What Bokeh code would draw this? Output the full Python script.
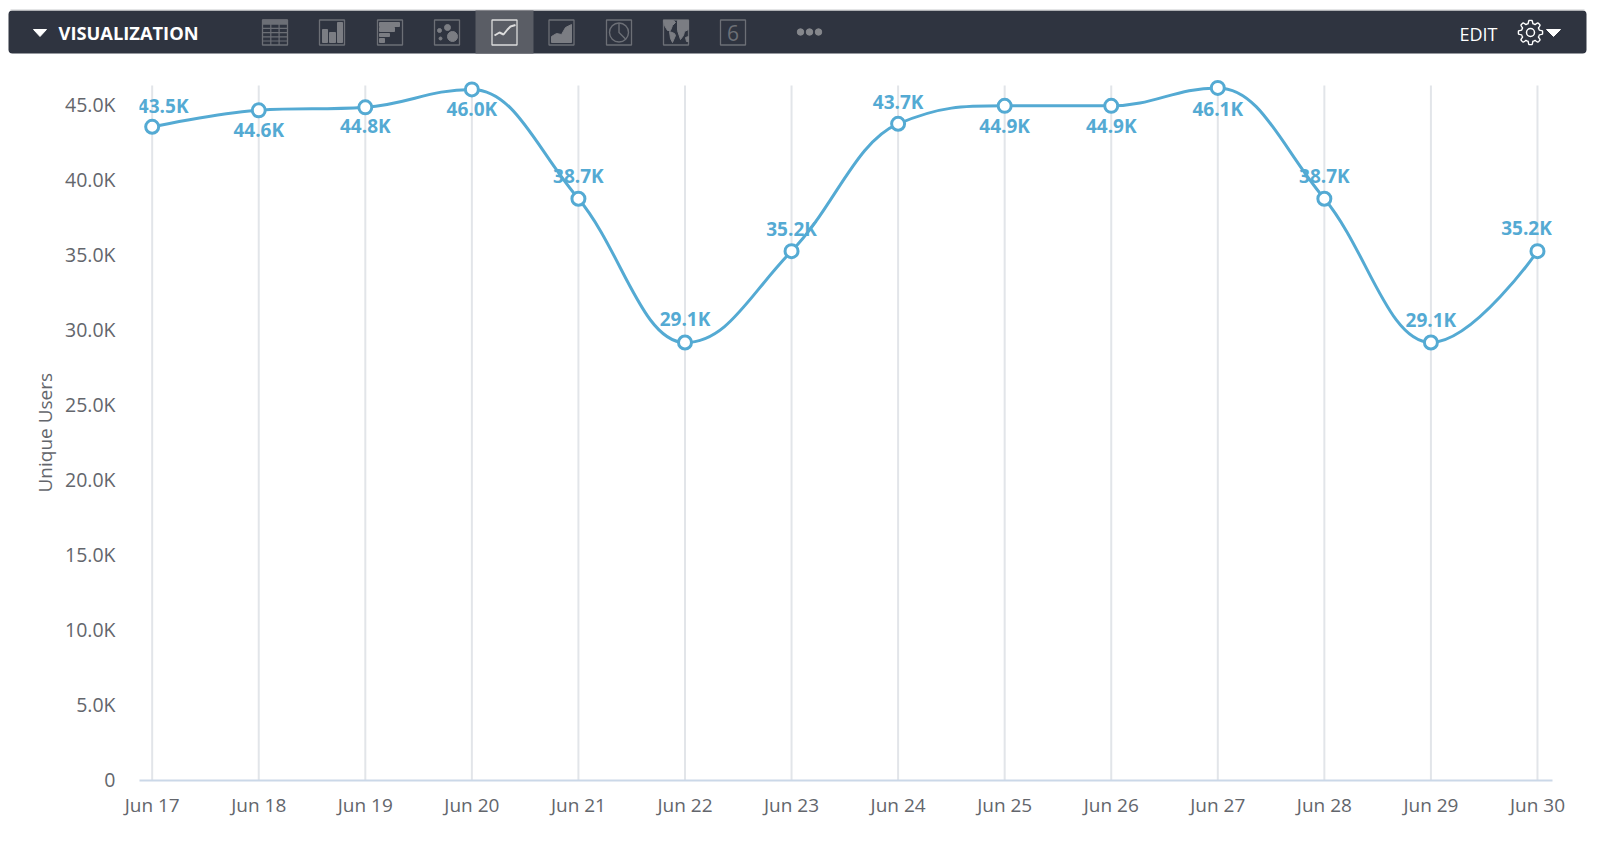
import numpy as np
from bokeh.core.properties import value
from bokeh.embed import file_html
from bokeh.layouts import column, row
from bokeh.models import BoxAnnotation, ColumnDataSource, FixedTicker, Range1d, Title
from bokeh.plotting import figure
from bokeh.resources import INLINE

# ---- data ----
days = ["Jun 17", "Jun 18", "Jun 19", "Jun 20", "Jun 21", "Jun 22", "Jun 23",
        "Jun 24", "Jun 25", "Jun 26", "Jun 27", "Jun 28", "Jun 29", "Jun 30"]
unique_users = [43540, 44640, 44840, 46040, 38740, 29140, 35240,
                43740, 44940, 44940, 46140, 38740, 29140, 35240]
y_ticks = [0, 5000, 10000, 15000, 20000, 25000, 30000, 35000, 40000, 45000]
y_labels = ["0", "5.0K", "10.0K", "15.0K", "20.0K", "25.0K", "30.0K", "35.0K", "40.0K", "45.0K"]
label_dx = [11, 0, 0, 0, 0, 0, 0, 0, 0, 0, 0, 0, 0, -11]
label_dy = [-21, 20, 19, 20, -23, -24, -22, -22, 20, 20, 21, -23, -23, -23]

FONT = value("Open Sans")
BLUE = "#54aad3"
TEXT = "#63666c"
BAR = "#2f3440"
ICON = "#6c6f76"
FILL = "#7b7d83"
ACTIVE = "#dcdcdc"

# ---- header bar, drawn in page pixels ----
h = figure(width=1592, height=63, x_range=Range1d(0, 1592), y_range=Range1d(63, 0),
           output_backend="svg", toolbar_location=None, min_border=0,
           outline_line_color=None, background_fill_color="white")
h.axis.visible = False
h.grid.visible = False
h.add_layout(BoxAnnotation(left=8, right=1586, top=10, bottom=53, fill_color=BAR, fill_alpha=1,
                           line_color=None, border_radius=4, level="underlay"))
h.line([10, 1584], [9.5, 9.5], color="#c9cacc", line_width=1)
h.quad(left=[475], right=[533], top=[10], bottom=[53], fill_color="#5a5d65", line_color=None)
h.patch([33, 46, 39.5], [29, 29, 36], color="white")
h.patch([1546, 1560, 1553], [29, 29, 36], color="white")
h.text([58], [32], text=["VISUALIZATION"], text_font=FONT, text_font_style="bold",
       text_font_size="18.3px", text_color="white", text_baseline="middle")
h.text([1459], [33], text=["EDIT"], text_font=FONT, text_font_size="18px",
       text_color="white", text_baseline="middle")

boxes = [262, 319, 377, 434, 491.5, 548.5, 606, 663, 720]
h.quad(left=boxes, right=[b + 25 for b in boxes], top=[19.5] * 9, bottom=[44.5] * 9,
       fill_color=None, line_color=[ICON] * 4 + [ACTIVE] + [ICON] * 4, line_width=1.3)
# table
for k in range(1, 6):
    h.line([262, 287], [19.5 + k * 4.2] * 2, color=ICON, line_width=1.2)
for k in (8.3, 16.6):
    h.line([262 + k] * 2, [19.5, 44.5], color=ICON, line_width=1.2)
h.quad(left=[262], right=[287], top=[19.5], bottom=[23], color=ICON)
# columns
h.quad(left=[322, 329, 337], right=[327, 335, 342], top=[29, 32, 22], bottom=[42, 42, 42], color=FILL)
# horizontal bars
h.quad(left=[379] * 4, right=[399, 394, 389, 384], top=[22, 27, 33, 38], bottom=[26, 31, 36, 42], color=FILL)
# scatter
h.scatter([439, 447, 440, 452], [30, 27, 38, 36], size=[4, 6, 3, 10], color=FILL)
# line
h.line([494, 499, 503, 507, 510, 515], [35, 32, 34, 29, 26, 24.5], color=ACTIVE, line_width=2)
# area
h.patch([551, 556, 561, 565, 571, 571, 551], [36, 33, 34, 27, 24, 42, 42], color=FILL)
# pie
h.circle([618.5], [32], radius=9.5, fill_color=None, line_color=ICON, line_width=1.4)
h.line([618.5, 618.5, 625], [22.5, 32, 38.5], color=ICON, line_width=1.4)
# map
h.patch([663, 673, 675, 672, 670, 667, 664], [20, 20, 22, 25, 30, 30, 25], color=FILL)
h.patch([669, 674, 675, 672, 670], [31, 33, 35, 42, 38], color=FILL)
h.patch([677, 688, 688, 684, 683, 680, 677], [20, 20, 29, 31, 35, 39, 30], color=FILL)
h.patch([685, 688, 688, 686], [37, 36, 41, 41], color=FILL)
# six
h.text([732.5], [32.5], text=["6"], text_font=FONT, text_font_size="21px", text_color=ICON,
       text_align="center", text_baseline="middle")
# more
h.scatter([800, 809, 818], [31.5] * 3, size=6.5, color="#85878c")
# gear
ang = np.linspace(0, 2 * np.pi, 145)
rad = 10.6 + 1.5 * np.clip(2 * np.cos(8 * ang), -1, 1)
h.line(1530 + rad * np.cos(ang), 32 + rad * np.sin(ang), color="white", line_width=1.4)
h.circle([1530], [32], radius=4, fill_color=None, line_color="white", line_width=1.5)

# ---- chart ----
x = [float(i) for i in range(len(days))]
y_start, y_grid_top, y_end = -100, 46300, 47301

p = figure(width=1592, height=778, x_range=Range1d(-0.119, 13.141), y_range=Range1d(y_start, y_end),
           frame_width=1413, frame_height=710, min_border_left=139, min_border_top=7,
           min_border_right=40, min_border_bottom=61,
           output_backend="svg", toolbar_location=None, outline_line_color=None)

p.xaxis.ticker = FixedTicker(ticks=x)
p.xaxis.major_label_overrides = {i: d for i, d in enumerate(days)}
p.yaxis.ticker = FixedTicker(ticks=y_ticks)
p.yaxis.major_label_overrides = dict(zip(y_ticks, y_labels))
p.yaxis.major_label_standoff = 24
p.yaxis.axis_line_color = None
p.xaxis.axis_line_color = "#cbd8e8"
p.xaxis.axis_line_width = 2
p.xaxis.major_label_standoff = 11
p.axis.major_tick_line_color = None
p.axis.minor_tick_line_color = None
p.axis.major_tick_out = 0
p.axis.major_tick_in = 0
p.axis.minor_tick_out = 0
p.axis.major_label_text_font = "Open Sans"
p.xaxis.major_label_text_font_size = "19px"
p.yaxis.major_label_text_font_size = "19.5px"
p.axis.major_label_text_color = TEXT
p.grid.visible = False
p.segment(x, [y_start] * len(x), x, [y_grid_top] * len(x), line_color="#e2e5e9", line_width=2)

# y-axis title, positioned along the visible part of the axis rather than the taller frame
p.add_layout(Title(text="Unique Users", align="left", offset=288, text_font="Open Sans",
                   text_font_size="19px", text_font_style="normal", text_color=TEXT,
                   standoff=8), "left")


def spline(xs, ys):
    """Spline with the same control-point rule as the source chart's smoothing."""
    n = len(xs)
    left, right = [None] * n, [None] * n
    for i in range(1, n - 1):
        lx = (1.5 * xs[i] + xs[i - 1]) / 2.5
        ly = (1.5 * ys[i] + ys[i - 1]) / 2.5
        rx = (1.5 * xs[i] + xs[i + 1]) / 2.5
        ry = (1.5 * ys[i] + ys[i + 1]) / 2.5
        c = (ry - ly) * (rx - xs[i]) / (rx - lx) + ys[i] - ry
        ly += c
        ry += c
        if ly > max(ys[i - 1], ys[i]):
            ly = max(ys[i - 1], ys[i])
            ry = 2 * ys[i] - ly
        elif ly < min(ys[i - 1], ys[i]):
            ly = min(ys[i - 1], ys[i])
            ry = 2 * ys[i] - ly
        if ry > max(ys[i + 1], ys[i]):
            ry = max(ys[i + 1], ys[i])
            ly = 2 * ys[i] - ry
        elif ry < min(ys[i + 1], ys[i]):
            ry = min(ys[i + 1], ys[i])
            ly = 2 * ys[i] - ry
        left[i], right[i] = (lx, ly), (rx, ry)
    left[-1] = (xs[-1], ys[-1])
    right[0] = (xs[0], ys[0])
    return dict(x0=xs[:-1], y0=ys[:-1], x1=xs[1:], y1=ys[1:],
                cx0=[r[0] for r in right[:-1]], cy0=[r[1] for r in right[:-1]],
                cx1=[l[0] for l in left[1:]], cy1=[l[1] for l in left[1:]])


p.bezier("x0", "y0", "x1", "y1", "cx0", "cy0", "cx1", "cy1",
         source=ColumnDataSource(spline(x, unique_users)), line_color=BLUE, line_width=3)
p.scatter(x, unique_users, size=13, fill_color="white", line_color=BLUE, line_width=3)
p.text(x, unique_users, text=[f"{v / 1000:.1f}K" for v in unique_users],
       x_offset=label_dx, y_offset=label_dy, text_align="center", text_baseline="middle",
       text_font=FONT, text_font_style="bold", text_font_size="19px", text_color=BLUE)

layout = column(row(h), row(p), spacing=0)
open("out.html", "w").write(file_html(layout, INLINE))
